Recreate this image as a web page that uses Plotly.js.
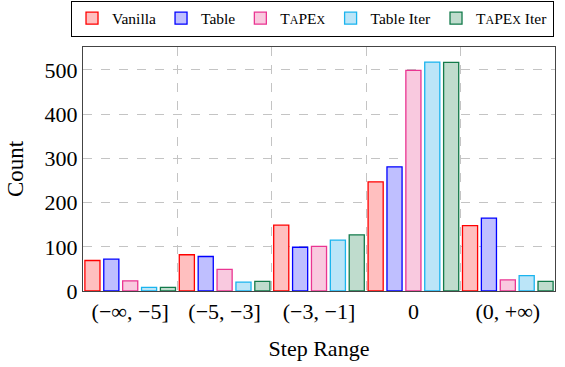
<!DOCTYPE html>
<html>
<head>
<meta charset="utf-8">
<script src="https://cdn.plot.ly/plotly-3.0.1.min.js"></script>
<style>html,body{margin:0;padding:0;background:#fff;}</style>
</head>
<body>
<div id="chart" style="width:565px;height:367px;"></div>
<script>
var categories = ["(\u2212\u221E, \u22125]", "(\u22125, \u22123]", "(\u22123, \u22121]", "0", "(0, +\u221E)"];
var seriesNames = ["Vanilla", "Table", "T<span style='font-size:12px'>A</span>PE<span style='font-size:12px'>X</span>", "Table Iter", "T<span style='font-size:12px'>A</span>PE<span style='font-size:12px'>X</span> Iter"];
var vanilla = [69, 82, 149, 247, 148];
var table = [72, 78, 99, 281, 165];
var tapex = [23, 49, 101, 499, 25];
var tableIter = [8, 20, 115, 518, 35];
var tapexIter = [8, 22, 127, 517, 22];

var values = [vanilla, table, tapex, tableIter, tapexIter];
var lineColors = ["#ff0000", "#0000ff", "#ea3592", "#1ab4ee", "#127a4a"];
var fillColors = ["#ffbfbf", "#bfbfff", "#f9c9df", "#bbe5f8", "#bfdccd"];

var traces = values.map(function (v, i) {
  return {
    type: "bar",
    name: seriesNames[i],
    x: categories,
    y: v,
    marker: {color: fillColors[i], line: {color: lineColors[i], width: 1.3}},
    hoverinfo: "skip"
  };
});

var serif = "Liberation Serif, Times New Roman, serif";
var layout = {
  width: 565, height: 367,
  margin: {l: 83, r: 10, t: 47, b: 76, autoexpand: false},
  paper_bgcolor: "#fff", plot_bgcolor: "#fff",
  barmode: "group", bargap: 0.0, bargroupgap: 0.2,
  font: {family: serif, size: 22, color: "#000"},
  xaxis: {
    type: "category",
    tickson: "boundaries",
    showgrid: true, gridcolor: "#c4c4c4", griddash: "dash", gridwidth: 1,
    showline: true, linecolor: "#444", linewidth: 1.2, mirror: true,
    ticks: "", tickfont: {family: serif, size: 22},
    title: {text: "Step Range", font: {family: serif, size: 22}, standoff: 18}
  },
  yaxis: {
    range: [0, 552],
    tickvals: [0, 100, 200, 300, 400, 500],
    showgrid: true, gridcolor: "#c4c4c4", griddash: "dash", gridwidth: 1,
    zeroline: false,
    showline: true, linecolor: "#444", linewidth: 1.2, mirror: true,
    ticks: "inside", ticklen: 4, tickcolor: "#c4c4c4",
    tickfont: {family: serif, size: 22},
    title: {text: "Count", font: {family: serif, size: 23}, standoff: 14}
  },
  legend: {
    orientation: "h",
    x: -0.0254, xanchor: "left",
    y: 1.19, yanchor: "top",
    bordercolor: "#000", borderwidth: 1,
    font: {family: serif, size: 15.5},
    itemwidth: 30, tracegroupgap: 0,
    traceorder: "normal"
  },
  showlegend: true
};

Plotly.newPlot("chart", traces, layout, {displayModeBar: false, staticPlot: true});
</script>
</body>
</html>
